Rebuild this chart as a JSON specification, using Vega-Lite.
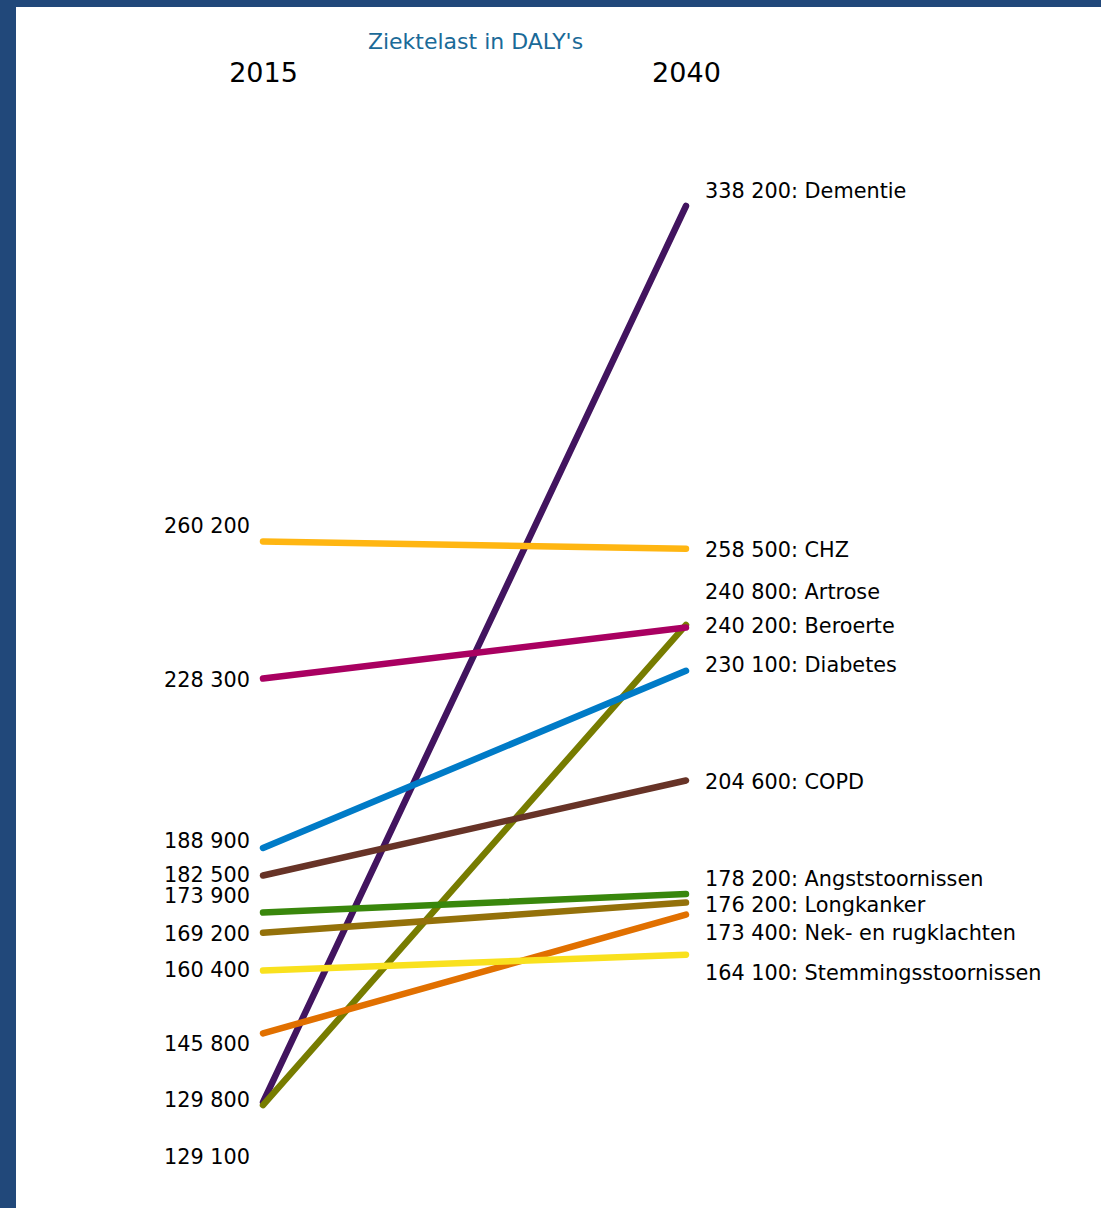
{
  "$schema": "https://vega.github.io/schema/vega-lite/v6.json",
  "width": 1085,
  "height": 1201,
  "autosize": {"type": "none"},
  "padding": {"left": 16, "top": 7, "right": 0, "bottom": 0},
  "background": "#21487a",
  "view": {"fill": "white", "stroke": null},
  "title": {
    "text": "Ziektelast in DALY's",
    "orient": "top",
    "anchor": "middle",
    "dx": -83,
    "offset": -57,
    "baseline": "middle",
    "font": "DejaVu Sans",
    "fontSize": 22,
    "fontWeight": "normal",
    "color": "#1a6a98"
  },
  "data": {
    "values": [
      {"name": "Dementie", "year": 2015, "value": 129800},
      {"name": "Dementie", "year": 2040, "value": 338200},
      {"name": "CHZ", "year": 2015, "value": 260200},
      {"name": "CHZ", "year": 2040, "value": 258500},
      {"name": "Artrose", "year": 2015, "value": 129100},
      {"name": "Artrose", "year": 2040, "value": 240800},
      {"name": "Beroerte", "year": 2015, "value": 228300},
      {"name": "Beroerte", "year": 2040, "value": 240200},
      {"name": "Diabetes", "year": 2015, "value": 188900},
      {"name": "Diabetes", "year": 2040, "value": 230100},
      {"name": "COPD", "year": 2015, "value": 182500},
      {"name": "COPD", "year": 2040, "value": 204600},
      {"name": "Angststoornissen", "year": 2015, "value": 173900},
      {"name": "Angststoornissen", "year": 2040, "value": 178200},
      {"name": "Longkanker", "year": 2015, "value": 169200},
      {"name": "Longkanker", "year": 2040, "value": 176200},
      {"name": "Nek- en rugklachten", "year": 2015, "value": 145800},
      {"name": "Nek- en rugklachten", "year": 2040, "value": 173400},
      {"name": "Stemmingsstoornissen", "year": 2015, "value": 160400},
      {"name": "Stemmingsstoornissen", "year": 2040, "value": 164100}
    ]
  },
  "encoding": {
    "x": {
      "field": "year",
      "type": "quantitative",
      "scale": {"domain": [2000.4, 2064.53], "nice": false, "zero": false},
      "axis": {
        "orient": "top",
        "values": [2015, 2040],
        "format": "d",
        "title": null,
        "domain": false,
        "ticks": false,
        "tickSize": 0,
        "grid": false,
        "labelPadding": -66,
        "labelBaseline": "middle",
        "labelFlush": false,
        "labelFont": "DejaVu Sans",
        "labelFontSize": 27,
        "labelColor": "black"
      }
    },
    "y": {
      "field": "value",
      "type": "quantitative",
      "scale": {"domain": [105177, 384479], "nice": false, "zero": false},
      "axis": null
    }
  },
  "layer": [
    {
      "mark": {"type": "line", "strokeWidth": 6.5, "strokeCap": "round"},
      "encoding": {
        "color": {
          "field": "name",
          "type": "nominal",
          "legend": null,
          "scale": {
            "domain": ["Dementie", "CHZ", "Artrose", "Beroerte", "Diabetes", "COPD", "Angststoornissen", "Longkanker", "Nek- en rugklachten", "Stemmingsstoornissen"],
            "range": ["#42145f", "#ffb612", "#777c00", "#a90061", "#007bc7", "#673327", "#39870c", "#94710a", "#e17000", "#f9e11e"]
          }
        }
      }
    },
    {
      "transform": [
        {"filter": "datum.year === 2015"},
        {"calculate": "replace(format(datum.value, ','), ',', ' ')", "as": "label"}
      ],
      "mark": {
        "type": "text",
        "align": "right",
        "baseline": "middle",
        "dx": -13,
        "dy": {"expr": "({'CHZ': -14, 'Beroerte': 2, 'Diabetes': -6, 'COPD': 0, 'Angststoornissen': -15, 'Longkanker': 2, 'Stemmingsstoornissen': 0, 'Nek- en rugklachten': 12, 'Dementie': -1, 'Artrose': 53})[datum.name]"},
        "font": "DejaVu Sans",
        "fontSize": 20.8,
        "color": "black"
      },
      "encoding": {"text": {"field": "label"}}
    },
    {
      "transform": [
        {"filter": "datum.year === 2040"},
        {"calculate": "replace(format(datum.value, ','), ',', ' ') + ': ' + datum.name", "as": "label"}
      ],
      "mark": {
        "type": "text",
        "align": "left",
        "baseline": "middle",
        "dx": 19,
        "dy": {"expr": "({'Dementie': -14, 'CHZ': 2, 'Artrose': -32, 'Beroerte': 0, 'Diabetes': -5, 'COPD': 3, 'Angststoornissen': -14, 'Longkanker': 3, 'Nek- en rugklachten': 19, 'Stemmingsstoornissen': 19})[datum.name]"},
        "font": "DejaVu Sans",
        "fontSize": 20.8,
        "color": "black"
      },
      "encoding": {"text": {"field": "label"}}
    }
  ]
}
